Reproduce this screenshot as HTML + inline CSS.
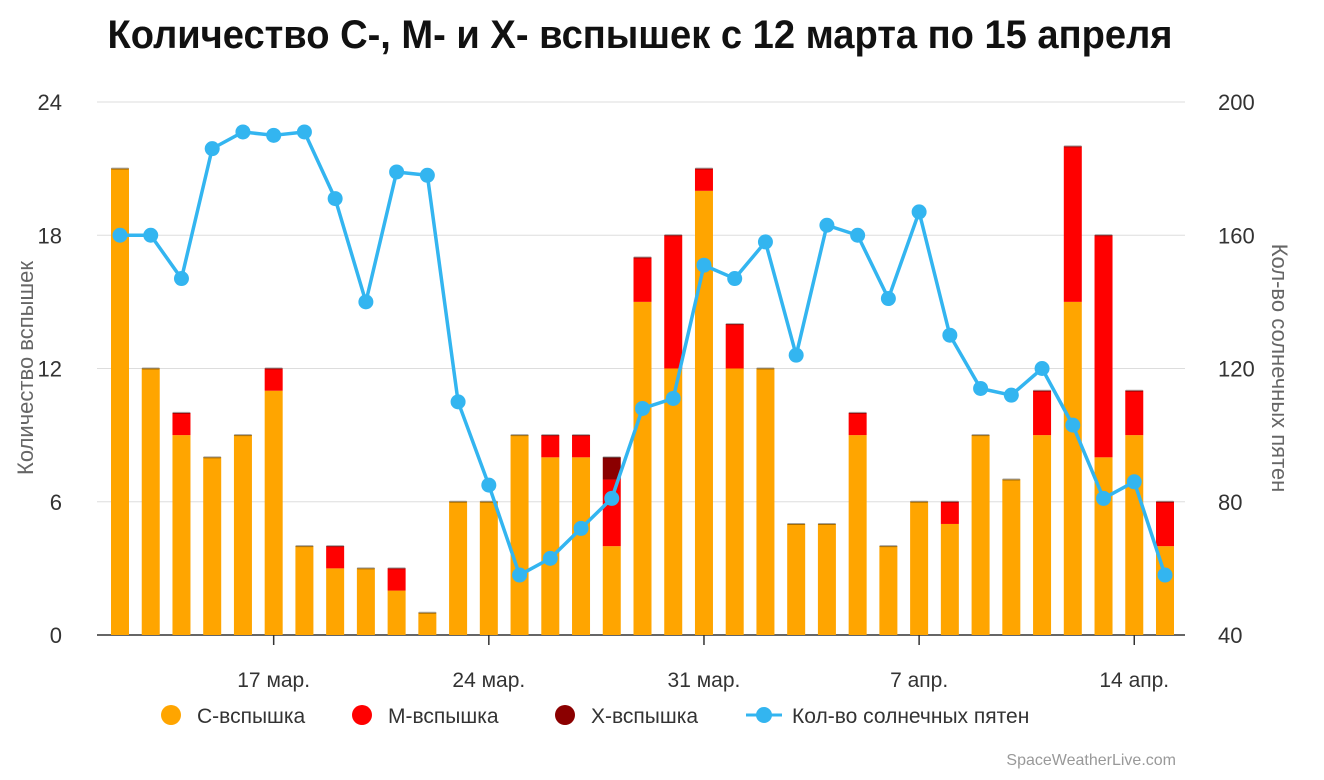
<!DOCTYPE html>
<html><head><meta charset="utf-8"><style>
body{margin:0;background:#fff;width:1324px;height:775px;overflow:hidden;font-family:"Liberation Sans",sans-serif}
</style></head><body>
<svg width="1324" height="775" xmlns="http://www.w3.org/2000/svg">
<text x="640" y="48" text-anchor="middle" font-family="'Liberation Sans Narrow','Liberation Sans',sans-serif" font-weight="bold" font-size="40" textLength="1065" lengthAdjust="spacingAndGlyphs" fill="#111">Количество C-, M- и X- вспышек с 12 марта по 15 апреля</text>
<g id="grid"></g><g id="bars"></g><g id="line"></g><g id="axes"></g>
<text transform="translate(33,368) rotate(-90)" text-anchor="middle" font-size="22" fill="#666">Количество вспышек</text>
<text transform="translate(1272,368) rotate(90)" text-anchor="middle" font-size="22" fill="#666">Кол-во солнечных пятен</text>
<g font-size="21" fill="#333">
<g><circle cx="171" cy="715" r="10" fill="#FFA500"/><text x="197" y="723">C-вспышка</text></g>
<g><circle cx="362" cy="715" r="10" fill="#FF0000"/><text x="388" y="723">M-вспышка</text></g>
<g><circle cx="565" cy="715" r="10" fill="#8B0000"/><text x="591" y="723">X-вспышка</text></g>
<g><line x1="746" y1="715" x2="782" y2="715" stroke="#33B5F0" stroke-width="3"/><circle cx="764" cy="715" r="8" fill="#33B5F0"/><text x="792" y="723">Кол-во солнечных пятен</text></g>
</g>
<text x="1176" y="765" text-anchor="end" font-size="16" fill="#999">SpaceWeatherLive.com</text>
</svg>
<script>
const cFlares=[21,12,9,8,9,11,4,3,3,2,1,6,6,9,8,8,4,15,12,20,12,12,5,5,9,4,6,5,9,7,9,15,8,9,4];
const mFlares=[0,0,1,0,0,1,0,1,0,1,0,0,0,0,1,1,3,2,6,1,2,0,0,0,1,0,0,1,0,0,2,7,10,2,2];
const xFlares=[0,0,0,0,0,0,0,0,0,0,0,0,0,0,0,0,1,0,0,0,0,0,0,0,0,0,0,0,0,0,0,0,0,0,0];
const sunspots=[160,160,147,186,191,190,191,171,140,179,178,110,85,58,63,72,81,108,111,151,147,158,124,163,160,141,167,130,114,112,120,103,81,86,58];
const leftTicks=[0,6,12,18,24];
const rightTicks=[40,80,120,160,200];
const xTickLabels=[[5,"17 мар."],[12,"24 мар."],[19,"31 мар."],[26,"7 апр."],[33,"14 апр."]];
const NS="http://www.w3.org/2000/svg";
const X0=97,X1=1185,Y0=635,Y1=102;
const xs=i=>120+i*(1165-120)/(cFlares.length-1);
const yl=v=>Y0-(v/24)*(Y0-Y1);
const yr=v=>Y0-((v-40)/160)*(Y0-Y1);
function mk(tag,attrs,parent){const e=document.createElementNS(NS,tag);for(const k in attrs)e.setAttribute(k,attrs[k]);document.getElementById(parent).appendChild(e);return e;}
leftTicks.forEach((t,i)=>{
 const g=mk('line',{x1:X0,x2:X1,y1:yl(t),y2:yl(t),stroke:t===0?'#333':'#ddd','stroke-width':t===0?1.5:1},'grid');
 
 
 const a=mk('text',{x:62,y:yl(t)+8,'text-anchor':'end','font-size':22,fill:'#333'},'axes');a.textContent=t;
 
 
 const b=mk('text',{x:1218,y:yr(rightTicks[i])+8,'font-size':22,fill:'#333'},'axes');b.textContent=rightTicks[i];
 
 
});
xTickLabels.forEach(([i,l])=>{
 const t=mk('line',{x1:xs(i),x2:xs(i),y1:Y0,y2:Y0+10,stroke:'#333','stroke-width':1.5},'axes');
 
 
 const s=mk('text',{x:xs(i),y:687,'text-anchor':'middle','font-size':21,fill:'#333'},'axes');s.textContent=l;
 
 
});
const bw=18;
cFlares.forEach((c,i)=>{
 let base=0;
 [[c,'#FFA500','bar-c-flare'],[mFlares[i],'#FF0000','bar-m-flare'],[xFlares[i],'#8B0000','bar-x-flare']].forEach(([v,col,n])=>{
  if(v>0){const r=mk('rect',{x:xs(i)-bw/2,y:yl(base+v),width:bw,height:yl(base)-yl(base+v),fill:col},'bars');
  
  }
  base+=v;
 });
 const cap=mk('rect',{x:xs(i)-bw/2,y:yl(base)-1,width:bw,height:2,fill:'#000',opacity:0.35,rx:1},'bars');
 
 
});
const pl=mk('polyline',{points:sunspots.map((v,i)=>xs(i)+','+yr(v)).join(' '),fill:'none',stroke:'#33B5F0','stroke-width':3.5,'stroke-linejoin':'round'},'line');


sunspots.forEach((v,i)=>{const c=mk('circle',{cx:xs(i),cy:yr(v),r:7.5,fill:'#33B5F0'},'line');
 
 });
</script>
</body></html>
